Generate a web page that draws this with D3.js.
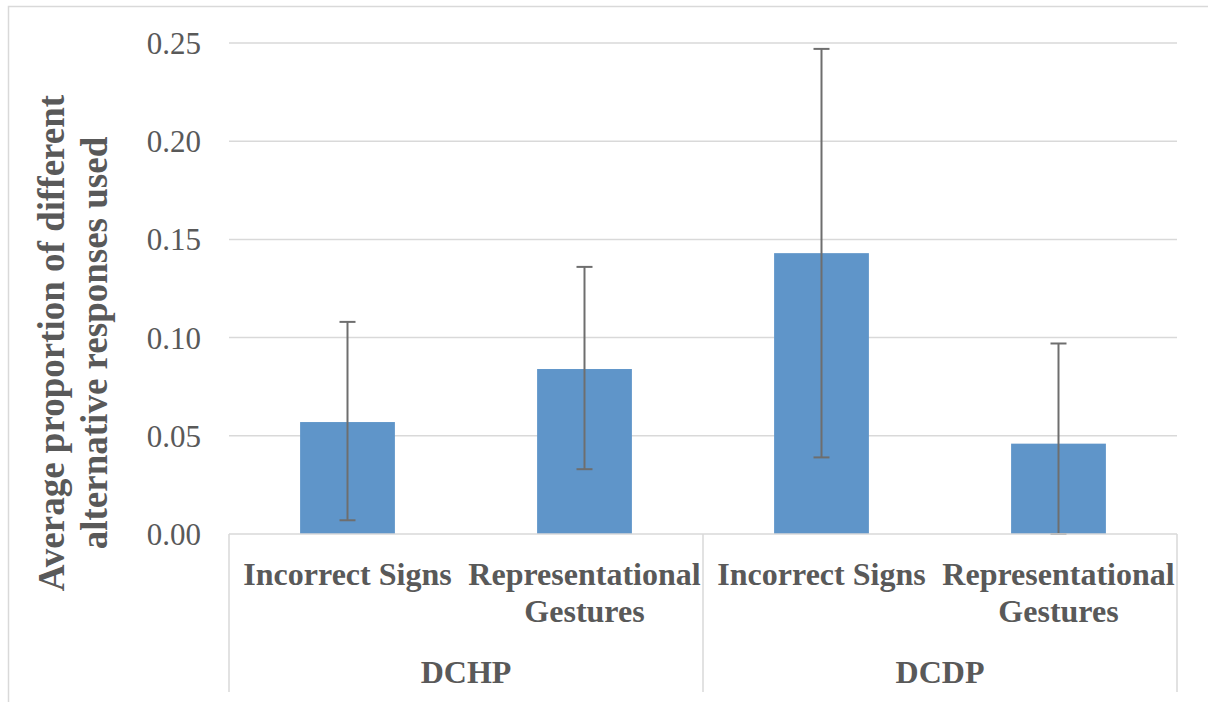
<!DOCTYPE html>
<html lang="en">
<head>
  <meta charset="UTF-8" />
  <title>Alternative responses</title>
  <script src="https://d3js.org/d3.v7.min.js"></script>
  <style>
    body { margin: 0; background: #fff; }
    svg { display: block; font-family: "Liberation Serif", "Times New Roman", serif; }
    .tick text { fill: #595959; font-size: 31px; font-family: "Liberation Serif", "Times New Roman", serif; }
    .cat { fill: #595959; font-size: 32px; font-weight: bold; }
    .title { fill: #595959; font-size: 37px; font-weight: bold; }
  </style>
</head>
<body>
  <svg width="1208" height="702"></svg>
  <script>
    const groups = ["DCHP", "DCDP"];
    const categories = ["Incorrect Signs", "Representational Gestures"];
    const means = [0.057, 0.084, 0.143, 0.046];
    const errLow = [0.007, 0.033, 0.039, 0.0];
    const errHigh = [0.108, 0.136, 0.247, 0.097];
    const yTicks = [0, 0.05, 0.10, 0.15, 0.20, 0.25];

    const rows = [];
    groups.forEach((g, gi) => categories.forEach((c, ci) => {
      const i = gi * categories.length + ci;
      rows.push({ key: g + "|" + c, group: g, cat: c, v: means[i], lo: errLow[i], hi: errHigh[i] });
    }));

    const svg = d3.select("svg");
    const m = { left: 229, right: 1177, top: 43, bottom: 534 };

    // outer chart frame
    svg.append("rect")
      .attr("x", 8.5).attr("y", 6.5).attr("width", 1220).attr("height", 720)
      .attr("fill", "none").attr("stroke", "#d9d9d9").attr("stroke-width", 1.5);

    const x = d3.scaleBand().domain(rows.map(d => d.key))
      .range([m.left, m.right]).paddingInner(0.6).paddingOuter(0.3);
    const y = d3.scaleLinear().domain([0, 0.25]).range([m.bottom, m.top]);

    // gridlines
    svg.append("g")
      .selectAll("line").data(yTicks.slice(1)).join("line")
      .attr("x1", m.left).attr("x2", m.right)
      .attr("y1", d => y(d)).attr("y2", d => y(d))
      .attr("stroke", "#d9d9d9").attr("stroke-width", 1.5);

    // y axis labels
    const yAxis = svg.append("g")
      .attr("transform", `translate(${m.left},0)`)
      .call(d3.axisLeft(y).tickValues(yTicks).tickFormat(d3.format(".2f")).tickSize(0).tickPadding(28));
    yAxis.attr("font-family", null).attr("font-size", null);
    yAxis.select(".domain").remove();
    yAxis.selectAll("text").attr("dy", "0.34em");

    // bars
    svg.append("g").selectAll("rect").data(rows).join("rect")
      .attr("x", d => x(d.key)).attr("width", x.bandwidth())
      .attr("y", d => y(d.v)).attr("height", d => y(0) - y(d.v))
      .attr("fill", "#5f95c9");

    // error bars
    const eb = svg.append("g").attr("stroke", "#6e6e6e").attr("stroke-width", 2);
    rows.forEach(d => {
      const cx = x(d.key) + x.bandwidth() / 2;
      eb.append("line").attr("x1", cx).attr("x2", cx).attr("y1", y(d.lo)).attr("y2", y(d.hi));
      eb.append("line").attr("x1", cx - 8).attr("x2", cx + 8).attr("y1", y(d.hi)).attr("y2", y(d.hi));
      eb.append("line").attr("x1", cx - 8).attr("x2", cx + 8).attr("y1", y(d.lo)).attr("y2", y(d.lo));
    });

    // category axis with group separators
    svg.append("line")
      .attr("x1", m.left).attr("x2", m.right).attr("y1", m.bottom).attr("y2", m.bottom)
      .attr("stroke", "#d9d9d9").attr("stroke-width", 1.5);
    const step = x.step();
    const seps = d3.range(groups.length + 1).map(i => m.left + i * step * categories.length);
    svg.append("g").selectAll("line").data(seps).join("line")
      .attr("x1", d => d).attr("x2", d => d).attr("y1", m.bottom).attr("y2", 692)
      .attr("stroke", "#d9d9d9").attr("stroke-width", 1.5);

    const labels = svg.append("g");
    rows.forEach(d => {
      const cx = x(d.key) + x.bandwidth() / 2;
      const words = d.cat === "Representational Gestures" ? ["Representational", "Gestures"] : [d.cat];
      const t = labels.append("text").attr("class", "cat").attr("text-anchor", "middle");
      words.forEach((w, i) => t.append("tspan").attr("x", cx).attr("y", 585 + i * 37).text(w));
    });
    groups.forEach((g, gi) => {
      labels.append("text").attr("class", "cat").attr("text-anchor", "middle")
        .attr("x", (seps[gi] + seps[gi + 1]) / 2).attr("y", 683).text(g);
    });

    // y axis title
    const title = svg.append("text").attr("class", "title")
      .attr("text-anchor", "middle")
      .attr("transform", "translate(64,343) rotate(-90)");
    title.append("tspan").attr("x", 0).attr("y", 0).text("Average proportion of different");
    title.append("tspan").attr("x", 0).attr("y", 43).text("alternative responses used");
  </script>
</body>
</html>
